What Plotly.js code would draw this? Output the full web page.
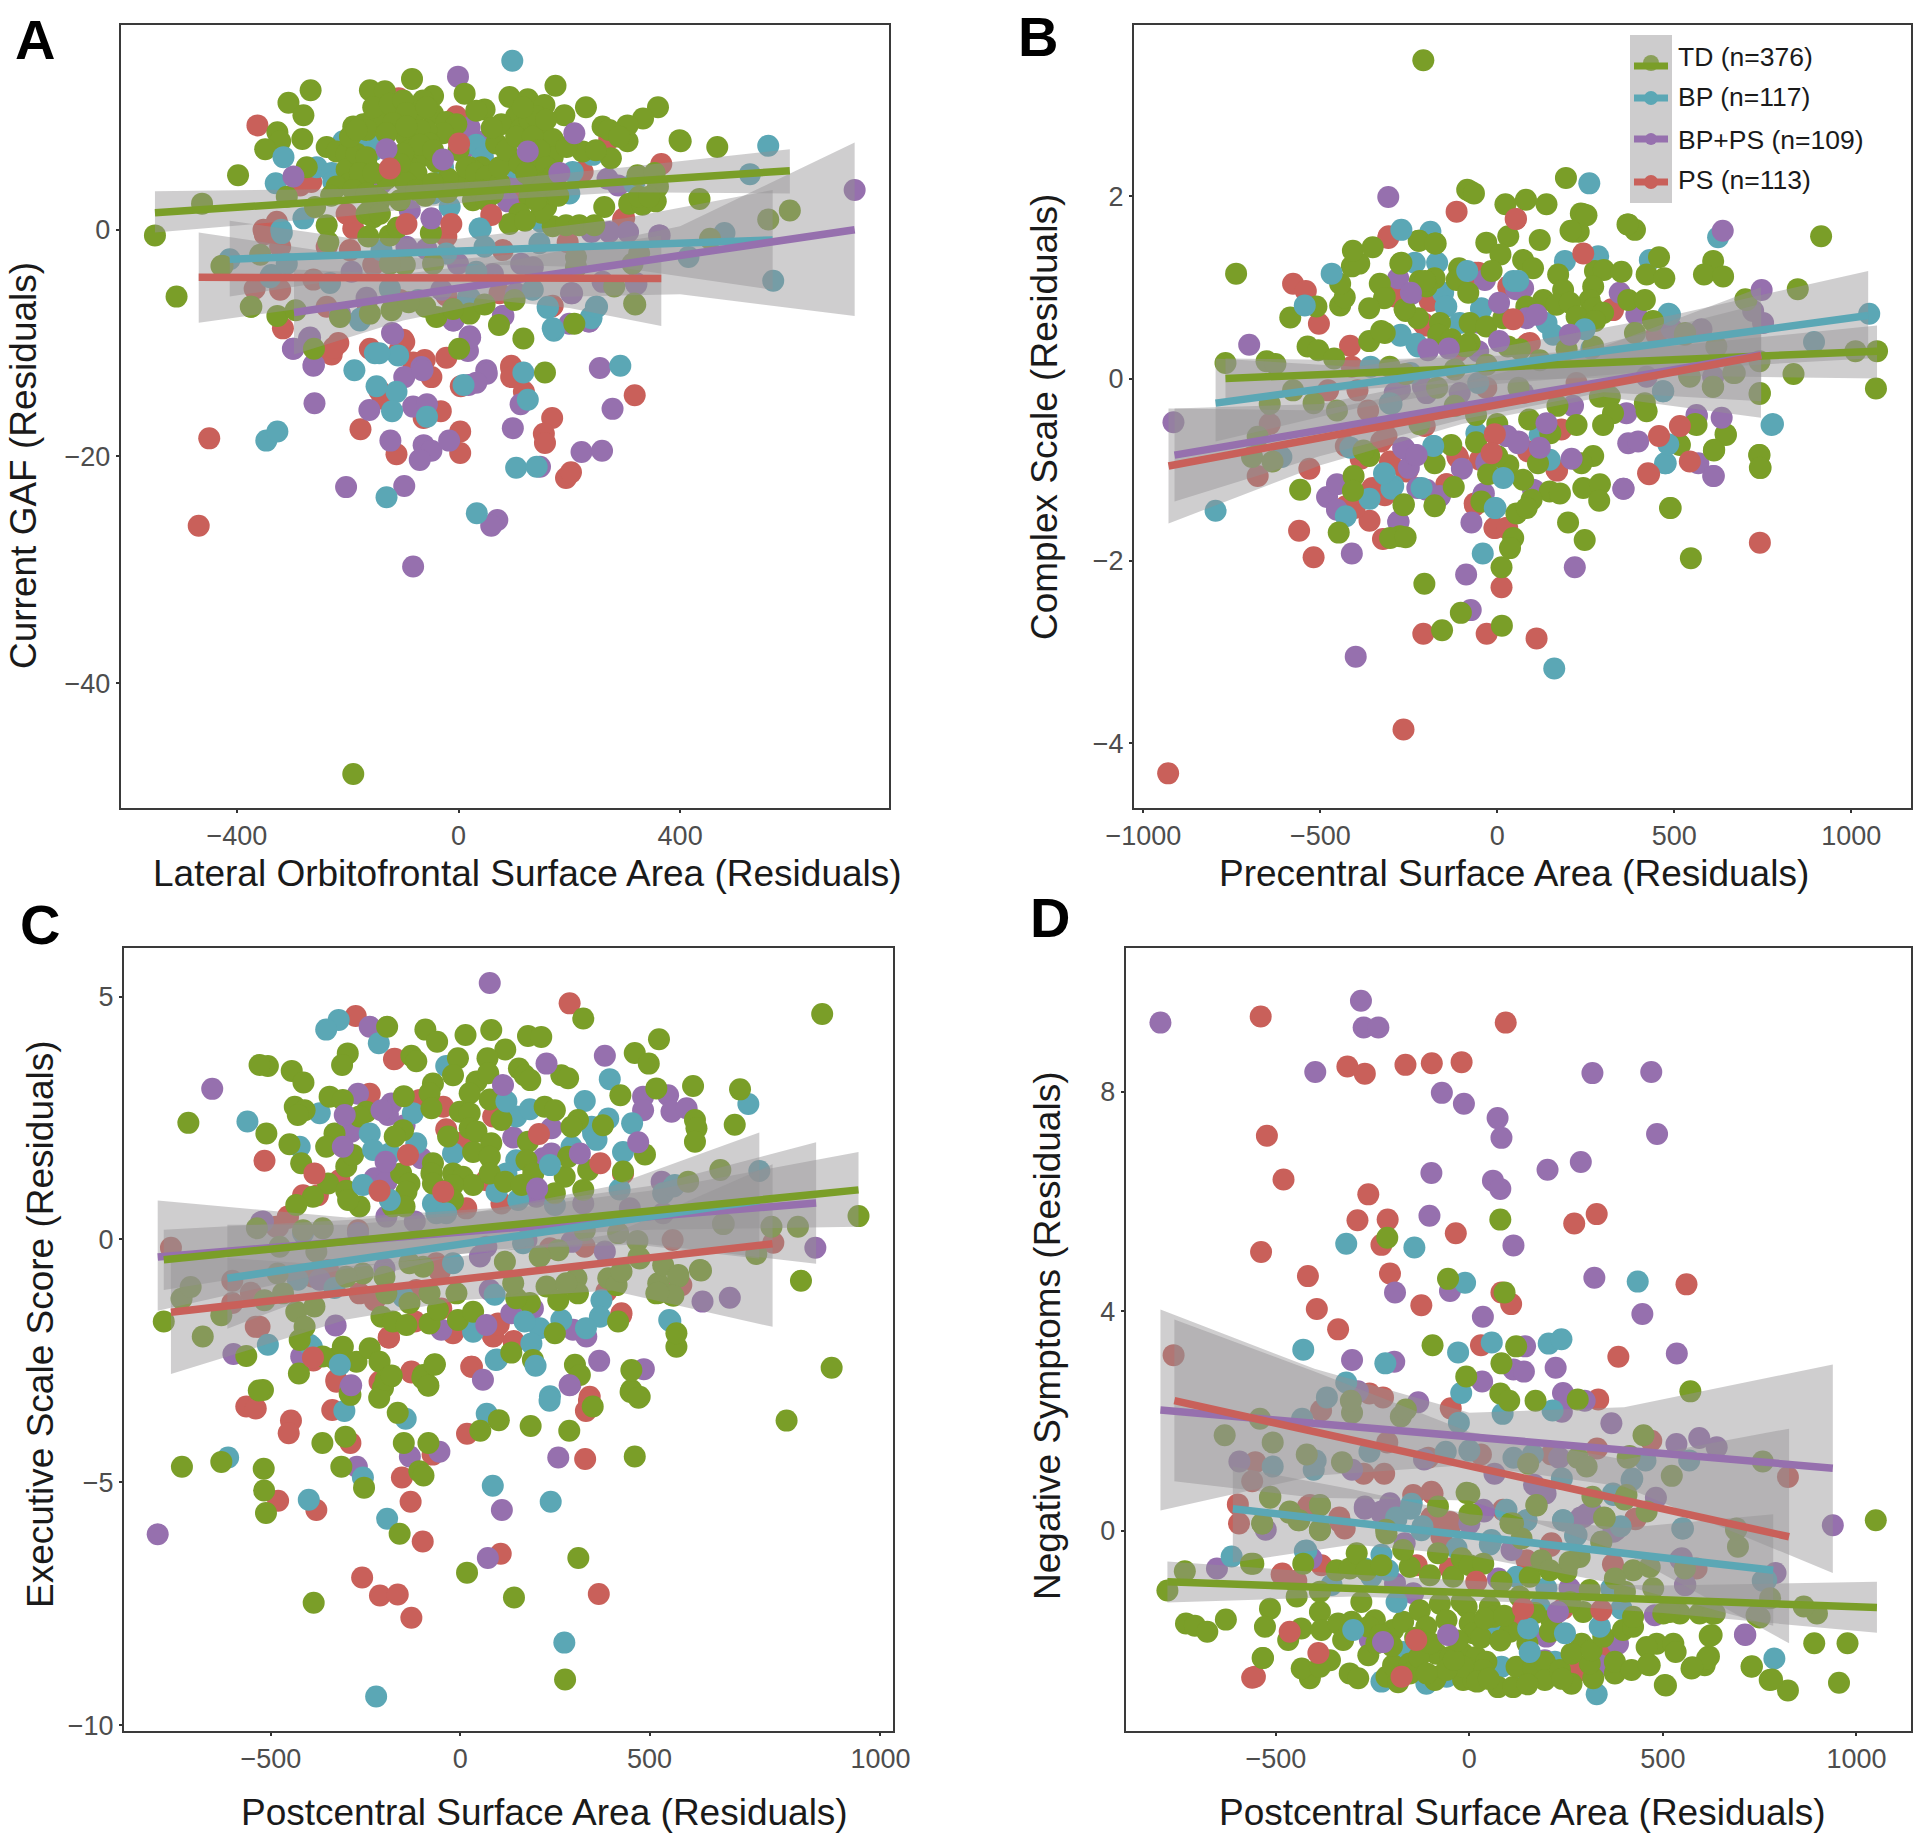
<!DOCTYPE html>
<html>
<head>
<meta charset="utf-8">
<script src="https://cdn.plot.ly/plotly-3.0.1.min.js"></script>
<style>html,body{margin:0;padding:0;background:#fff}#chart{width:1920px;height:1840px}</style>
</head>
<body>
<div id="chart"></div>
<script>
const groupNames = ['TD (n=376)','BP (n=117)','BP+PS (n=109)','PS (n=113)'];
const groupColors = ['#7a9e28','#5ba7b5','#9670ae','#c9605a'];

// ---------- Panel A
const A_TD = [[-398,4.8],[-267,12.3],[-307,11.2],[-280,10.1],[-327,8.6],[-322,7.8],[-349,7.1],[-282,8],[-238,7.3],[-84,13.3],[-160,12.3],[-133,12.2],[11,12],[-46,11.8],[-64,11.4],[175,12.7],[92,11.7],[125,11.5],[155,11],[47,10.6],[32,10.5],[230,10.8],[191,10.1],[360,10.8],[333,9.8],[305,9.2],[260,9.1],[305,7.8],[275,6.3],[263,2],[399,7.9],[224,6.9],[146,8.5],[170,8],[104,10],[77,9.3],[113,8.9],[68,7.6],[140,5.5],[170,6.4],[195,7.3],[92,6.1],[41,5.5],[20,5.5],[56,4.4],[-4,4.1],[-19,4.5],[-112,10.8],[-130,10.2],[-154,9.8],[-190,9.1],[-172,9.3],[-142,9.5],[-106,9.7],[-76,10.5],[-82,9.5],[-46,10.2],[-22,9.5],[-4,9.3],[-28,8.5],[-58,8.8],[-94,8.2],[-88,7],[-70,6.4],[-94,5.8],[-76,5],[-100,4.4],[-220,6.9],[-202,6.7],[-166,5.7],[-184,5.5],[-202,5.3],[-172,4.2],[-196,4.1],[-220,3.8],[-274,5.5],[-259,2],[-310,2.9],[-238,0.4],[-166,1.4],[-142,2.6],[-106,2.6],[-154,1.1],[26,2.6],[62,3.2],[158,3.2],[158,2],[128,2.9],[110,1.4],[92,0.5],[170,0.3],[194,0.4],[218,0.4],[245,0.4],[308,2.3],[332,2.2],[356,2.5],[323,4.8],[354,5],[360,3.8],[317,-6.5],[-374,-6.8],[-327,-7.6],[-294,-7.1],[-40,-7.7],[20,-7.4],[47,-6.6],[-121,-7.1],[-214,-7.7],[281,-5],[101,-6.2],[-163,-0.6],[-124,-0.5],[-235,-1.1],[-358,-2.2],[-428,-3.2],[-97,-3.1],[-124,-3],[-46,-3],[212,-2.4],[212,-3.3],[314,-3],[326,-2.1],[-548,-0.5],[-509,-5.9],[-463,2.3],[-426,-3.2],[-375,-6.8],[-261,-10.5],[-190,-48],[73,-8.4],[117,-9.6],[1,-10.5],[156,-12.6],[209,-8.3],[319,-6.6],[401,7.8],[467,7.3],[435,2.7],[598,1.7],[559,0.9],[454,-0.8],[-60,3],[-20,3.3],[-150,3],[0,7],[30,4],[-130,4.5],[-40,6],[60,9],[-10,-7],[-60,-6.8],[-90,-6.4],[-160,-7.4],[180,3],[150,1.5],[-230,3],[-110,0.2],[-50,-0.3],[120,0.8],[-154,10.8],[-124,11.1],[-100,11.4],[-94,10.3],[-58,10.8],[-118,9.4],[-166,8.8],[-130,8.5],[-70,8.8],[-52,7.6],[-70,7.5],[-100,6.7],[-106,5.8],[-184,6.7],[-166,6.4],[-178,5],[-154,5],[-190,3.5],[-166,3.2],[-160,1.7],[-142,1.4],[-94,4.1],[-76,3.5],[-46,4.1],[14,5.5],[32,5],[50,4.7],[38,3.5],[50,2.6],[74,4.1],[74,5.5],[86,7],[104,8.2],[128,9.7],[140,10],[134,8.2],[158,9.7],[116,10.8],[146,7],[158,5.5],[134,4.4],[170,4.7],[140,2.6],[152,4.1],[110,5.8],[122,5],[-46,7],[-94,9.1],[-196,8.2],[-184,8.8],[272,8.8],[290,8.2],[248,7],[326,2.9],[344,2.9]];
const A_BP = [[97,14.9],[559,7.4],[526,4.9],[568,-4.5],[480,-0.3],[415,-2.4],[-330,4.1],[-413,-2.6],[-338,-4],[-347,-18.6],[-327,-17.8],[-188,-12.4],[-151,-10.9],[-109,-11.1],[-112,-14.3],[-148,-13.8],[-120,-16],[-57,-16.5],[9,-13.7],[117,-12.6],[125,-15],[104,-21],[141,-20.9],[-130,-23.6],[33,-25],[292,-12],[161,-6.9],[172,-8.9],[239,-7.7],[250,-6.8],[40,0.1],[20,-6],[-176,-7.8],[-208,7.8],[-184,7.5],[-154,7],[-139,8.1],[-256,5.5],[-229,5],[-226,4.2],[32,7.5],[44,6.4],[101,5.5],[206,5.1],[242,6.6],[200,3.2],[-16,2],[-46,3.2],[-28,5.5],[-280,1],[161,-6.8],[170,-8.7],[240,-7.8],[248,-6.8],[317,4.1],[149,0.7],[-310,-3],[-340,-4.2],[-232,-4.7],[-124,-5.2],[17,-6],[-73,-6.2],[134,-5.3],[-178,-8],[32,-3.7],[146,-1.2],[47,-1.5],[-139,-1.8],[-22,-2.1]];
const A_BPPS = [[-1,13.5],[20,9],[11,7.2],[50,7.9],[-97,4.8],[-139,4.1],[-67,3.8],[-88,1.7],[89,2.5],[107,4.4],[269,4.5],[288,3.9],[240,-0.2],[272,-0.2],[306,-0.2],[363,-0.5],[-94,-1.5],[-58,-1.7],[-1,-3],[113,-3],[134,-3.3],[203,-5.6],[320,-4.7],[260,-4.6],[104,-5.6],[-31,-5.3],[-166,-6],[-193,-3.7],[62,-3.9],[-214,-7.4],[-9,-8],[80,-7.6],[200,-8.3],[236,-8.1],[-268,-9.5],[-298,-10.5],[-262,-12],[-118,-9.2],[20,-9.4],[17,-10.7],[50,-12.4],[-67,-12.1],[-261,-11.9],[-260,-15.3],[-161,-15.9],[-98,-13],[-65,-12.4],[-82,-15.6],[-57,-15.4],[-123,-18.6],[-63,-19],[-49,-19.5],[-70,-20.3],[-17,-18.6],[-203,-22.7],[-98,-22.6],[70,-25.6],[59,-26.1],[-82,-29.7],[98,-17.5],[112,-15.4],[51,-12.7],[18,-13.7],[32,-13.5],[255,-12.2],[278,-15.8],[222,-19.6],[259,-19.5],[147,-20.9],[715,3.5],[362,-0.5],[321,-4.8],[239,0],[81,-7.6],[-10,-8],[235,-8.1],[205,-5.6],[15,-10.6],[21,-9.5],[-120,-9.1],[-299,-10.5],[-270,-9.6]];
const A_PS = [[-363,9.2],[-4,10],[-108,11.6],[366,5.8],[170,7.9],[224,5.1],[272,8],[-286,3.9],[-266,4.2],[134,2.8],[110,3.2],[-190,0.1],[-202,1.4],[-328,0.7],[-352,0],[-322,-1.5],[-238,-1.5],[-196,-1.8],[-154,-3.1],[-22,-0.6],[80,-1.8],[197,-1.1],[299,1],[-368,-5.2],[-322,-5.3],[-262,-4.4],[-166,-6.4],[-238,-6.8],[-106,-6.2],[-22,-5.8],[74,-5.6],[170,-6.7],[-317,-8.7],[-217,-10],[-229,-11],[-160,-10.5],[-100,-9.7],[-106,-10.6],[-82,-11.7],[-61,-11.5],[-22,-11.3],[95,-12],[-450,-18.4],[-469,-26.1],[-225,-10.4],[-98,-9.9],[-49,-13],[-143,-14.2],[-137,-14.9],[-32,-16],[-63,-16.6],[-177,-17.6],[-112,-19.8],[3,-17.8],[3,-19.7],[4,-13.8],[95,-12.2],[95,-13],[118,-14.3],[169,-16.6],[154,-18],[156,-18.8],[194,-21.9],[203,-21.4],[318,-14.6],[297,0.9],[-350,-0.4],[167,-6.8]];
const A_top = [[209,8.5,2],[125,6.9,2],[-28,6.2,2],[-130,7.1,2],[-49,1,2],[-298,4.7,2],[182,5,2],[1,7.6,3],[-124,5.4,3],[59,1.3,3],[-94,0.5,3],[-13,0.5,3],[38,0.1,1],[-316,6.4,1],[-320,0,1],[-319,-0.3,1],[-143,-10.9,1]];
const A_fit = [[[-548,1.5],[598,5.2]],[[-413,-2.6],[567,-0.9]],[[-297,-7.3],[715,0]],[[-469,-4.2],[366,-4.3]]];
const A_band = [[[-548,-0.25,3.4],[-200,1.2,3.6],[50,2.6,4.3],[300,3.3,5.5],[598,3.2,7.1]],[[-413,-5.9,0.8],[-200,-4.3,-0.7],[0,-3,-0.8],[300,-3.4,1],[567,-5.3,3.5]],[[-297,-11,-3.5],[-100,-8,-3.9],[100,-6,-2.7],[400,-5.7,0.3],[715,-7.6,7.7]],[[-469,-8.2,-0.25],[-200,-6.4,-2.2],[0,-5.9,-2.6],[200,-6.9,-1.7],[366,-8.5,-0.5]]];

// ---------- Panel B
const B_TD = [[-76,2.05],[-85,2.07],[-66,2.03],[23,1.91],[81,1.96],[139,1.91],[243,1.8],[370,1.69],[389,1.63],[214,1.61],[230,1.61],[120,1.52],[31,1.56],[-31,1.49],[-221,1.51],[-174,1.48],[9,1.36],[73,1.3],[101,1.21],[172,1.14],[-271,1.27],[-108,1.21],[-16,1.18],[276,1.18],[301,1.19],[351,1.17],[422,1.14],[472,1.1],[457,1.33],[610,1.29],[584,1.14],[638,1.12],[-115,1.08],[-177,1.1],[-219,1.07],[-82,0.94],[186,0.97],[271,1.01],[261,0.86],[370,0.86],[417,0.86],[704,0.86],[-318,0.9],[-318,0.5],[-259,0.74],[-224,0.66],[-200,1.01],[130,0.86],[167,0.81],[205,0.83],[82,0.79],[271,0.77],[299,0.72],[440,0.63],[-162,0.61],[-78,0.61],[-31,0.57],[17,0.66],[224,0.68],[276,0.63],[389,0.5],[-167,0.48],[-130,0.43],[-78,0.39],[64,0.32],[196,0.32],[271,0.35],[-304,0.13],[530,0.48],[671,0.06],[544,0.02],[610,-0.09],[742,-0.16],[619,0.35],[290,-0.2],[318,-0.2],[417,-0.27],[422,-0.36],[327,-0.38],[299,-0.51],[224,-0.51],[563,-0.51],[646,-0.62],[516,-0.73],[613,-0.78],[740,-0.84],[744,-0.98],[271,-0.85],[238,-0.93],[115,-0.93],[-177,-0.93],[-130,-0.73],[-26,-1.05],[31,-0.95],[73,-1.11],[148,-1.24],[177,-1.26],[243,-1.2],[290,-1.16],[288,-1.34],[-123,-1.19],[-45,-1.35],[-177,-1.4],[-264,-1.38],[97,-1.33],[54,-1.48],[200,-1.58],[490,-1.42],[247,-1.77],[83,-1.42],[-275,-1.73],[45,-1.75],[-738,1.15],[-768,0.17],[-652,0.19],[-627,0.16],[-585,0.67],[-536,0.35],[-506,0.31],[-461,0.22],[-511,0.79],[-444,0.8],[-431,0.89],[-444,1.04],[-411,1.23],[-390,1.26],[-408,1.4],[-352,1.44],[-332,1.04],[-320,0.88],[-362,0.77],[-362,0.41],[-328,0.52],[-262,0.76],[-274,1.26],[-222,1.51],[-176,1.48],[-204,1.07],[-577,-0.13],[-643,-0.28],[-519,-0.27],[-453,-0.35],[-677,-0.64],[-693,-0.86],[-635,-0.91],[-362,-0.85],[-378,-0.79],[-557,-1.22],[-406,-1.07],[-408,-1.23],[-448,-1.69],[-303,-1.75],[-259,-1.74],[-265,-1.39],[-177,-1.39],[-206,-2.25],[-156,-2.76],[-103,-2.57],[13,-2.71],[12,-2.07],[36,-1.86],[-209,3.49],[194,2.2],[236,1.81],[252,1.79],[207,1.62],[368,1.69],[915,1.56],[849,0.98],[701,0.87],[1073,0.3],[1070,-0.11],[1012,0.3],[837,0.05],[741,-0.17],[741,-0.84],[742,-0.98],[547,-1.97],[488,-1.42],[514,-0.72],[559,-0.5],[645,-0.61],[612,-0.79],[542,0.03],[609,-0.09],[667,0.06],[741,0.19],[531,0.5],[-120,0.1],[-60,-0.4],[0,-0.5],[60,-0.1],[120,0.2],[170,-0.3],[-220,-0.5],[-170,-0.1],[-90,0.35],[-30,0.15],[30,0.35],[-260,0.05],[-120,-0.3],[90,-0.45],[150,-0.6],[-60,-0.7],[0,-0.85]];
const B_BP = [[-189,1.61],[-233,1.27],[-170,1.27],[191,1.29],[285,1.34],[431,1.3],[488,0.7],[-153,0.94],[-144,0.79],[-45,0.77],[-106,0.61],[139,0.61],[158,0.48],[-273,0.48],[-224,0.35],[469,-0.14],[266,0.33],[-54,-0.05],[-304,-0.27],[120,-0.62],[-59,-0.6],[148,-0.89],[-294,-1.18],[-214,-1.2],[-318,-1.05],[-358,0.13],[161,-3.18],[-41,-1.92],[-5,-1.42],[15,-1.07],[-428,-1.51],[-361,-1.32],[-299,-1.21],[-320,-1.04],[-610,-0.86],[-415,-0.76],[-179,-0.74],[260,2.14],[1051,0.71],[895,0.4],[779,-0.5],[476,-0.93],[468,-0.14],[484,0.71],[282,1.31],[-299,-0.28],[-245,0.06],[-229,0.38],[-274,0.47],[-146,0.79],[-46,0.76]];
const B_BPPS = [[-280,1.1],[-35,1.08],[73,0.99],[-49,0.61],[-54,0.3],[492,0.55],[577,0.54],[723,0.74],[751,0.61],[365,-0.38],[563,-0.4],[370,-0.71],[398,-0.69],[568,-0.93],[610,-1.07],[356,-1.21],[-250,-0.98],[-31,-0.93],[101,-1.22],[-200,-1.22],[-40,-1.28],[-162,-1.29],[-73,-1.58],[-280,-1.57],[610,0.02],[-200,-0.16],[-275,-0.12],[422,0.02],[214,-0.3],[73,-0.16],[-106,-0.16],[-210,-0.09],[-290,-0.16],[-915,-0.48],[-701,0.37],[346,0.94],[393,0.7],[564,-0.41],[612,-1.07],[357,-1.21],[106,-1.23],[219,-2.07],[-88,-2.15],[-75,-2.54],[-400,-3.05],[-411,-1.92],[-279,-1.57],[-481,-1.3],[-453,-1.16],[-453,-1.44],[-226,-1.2],[-163,-1.29],[-262,-0.77],[-232,-0.84],[-100,-0.99],[-38,-1.26],[-30,-0.91],[28,-0.63],[61,-0.69],[-242,0.93],[-196,0.31],[53,0.98],[202,0.47]];
const B_PS = [[-115,1.83],[-308,1.54],[-54,1.16],[31,1.01],[-290,0.9],[-191,0.85],[-210,0.61],[327,0.75],[92,0.39],[-111,0.3],[450,0.48],[224,-0.05],[-31,-0.1],[-205,-0.52],[-313,-0.63],[181,-0.56],[-304,-0.95],[-257,-1.02],[-111,-0.87],[-49,-0.89],[167,-1],[87,-0.8],[-318,-1.28],[-144,-1.16],[-64,-1.37],[-7,-1.64],[26,-1.64],[742,-1.8],[-930,-4.33],[-265,-3.85],[-209,-2.8],[-30,-2.8],[111,-2.85],[12,-2.29],[-323,-1.76],[-560,-1.67],[-519,-1.96],[-361,-1.56],[-403,-1.42],[-428,-1.4],[-353,-1.2],[-328,-1.26],[-531,-0.99],[-677,-1.07],[-643,-0.5],[-365,-0.35],[-328,-0.69],[-303,-0.91],[-254,-1.01],[-386,-0.88],[-428,-0.74],[-143,-1.16],[-113,-0.85],[-63,-1.39],[-8,-1.64],[28,-1.64],[426,-1.04],[169,-1.01],[53,1.75],[-307,1.56],[-577,1.04],[-541,0.96],[-504,0.6],[-416,0.36],[-411,0.13],[-292,0.91],[-191,0.88],[-204,0.58],[-63,1.16],[323,0.76],[86,0.38],[-395,-0.13],[-478,-0.13]];
const B_top = [[-85,1.18,1],[45,1.07,1],[59,1.07,1],[-271,1.63,1],[624,1.55,1],[247,0.54,1],[-181,-0.74,1],[775,-0.51,1],[-7,-1.42,1],[17,-1.09,1],[474,-0.93,1],[483,-0.72,1],[-796,-1.45,1],[-544,0.8,1],[-468,1.15,1],[5,0.83,2],[82,0.66,2],[111,0.7,2],[-244,0.94,2],[-195,0.32,2],[-137,0.33,2],[-308,1.99,2],[139,-0.49,2],[120,-0.76,2],[5,0.41,2],[205,0.48,2],[210,-0.88,2],[26,-0.63,2],[59,-0.71,2],[-266,-0.76,2],[-228,-0.84,2],[634,-0.43,2],[747,0.97,2],[637,1.62,2],[243,1.37,3],[45,0.65,3],[-7,-0.61,3],[-16,-0.82,3],[52,1.75,3],[429,-1.05,3],[516,-0.52,3],[544,-0.91,3],[457,-0.63,3]];
const B_fit = [[[-768,0],[1073,0.3]],[[-796,-0.27],[1048,0.69]],[[-912,-0.84],[746,0.26]],[[-929,-0.96],[745,0.25]]];
const B_band = [[[-768,-0.25,0.22],[-400,-0.12,0.2],[0,-0.02,0.25],[500,0.03,0.36],[1073,0,0.58]],[[-796,-0.69,0.22],[-400,-0.33,0.13],[0,-0.06,0.34],[500,0.1,0.7],[1048,0.22,1.18]],[[-912,-1.35,-0.33],[-500,-0.85,-0.28],[-100,-0.45,0.03],[300,-0.15,0.38],[746,-0.25,0.82]],[[-929,-1.59,-0.33],[-500,-0.95,-0.35],[-100,-0.5,-0.05],[300,-0.2,0.35],[745,-0.43,1]]];

// ---------- Panel C
const C_TD = [[325,4.55],[-193,4.38],[-92,4.32],[-61,4.07],[14,4.21],[82,4.31],[119,3.91],[179,4.19],[214,4.17],[-297,3.83],[-312,3.59],[-129,3.78],[-116,3.67],[-6,3.73],[72,3.73],[-19,3.38],[-508,3.57],[-530,3.59],[-445,3.47],[-414,3.23],[525,4.12],[461,3.84],[498,3.62],[155,3.52],[170,3.38],[185,3.28],[267,3.38],[285,3.32],[43,3.25],[25,3.01],[74,3.42],[-72,3.21],[-81,3.01],[423,2.97],[518,3.11],[615,3.16],[739,3.09],[725,2.36],[78,2.88],[-345,2.94],[-310,2.87],[-437,2.73],[-411,2.66],[-429,2.56],[-149,2.95],[-76,2.7],[-1,2.63],[25,2.6],[223,2.73],[250,2.66],[311,2.46],[294,2.32],[377,2.35],[620,2.46],[624,2.29],[620,2.01],[109,2.46],[25,2.29],[43,2.22],[-512,2.18],[-451,1.96],[-151,2.25],[-173,2.12],[-32,2.12],[82,1.98],[179,2.01],[-332,2.18],[-354,1.91],[-248,2.63],[-266,2.53],[34,1.8],[78,1.7],[488,1.75],[-420,1.57],[-301,1.5],[-283,1.74],[-72,1.57],[-76,1.36],[-156,1.36],[-134,1.15],[-142,0.98],[-19,1.36],[7,1.29],[34,1.12],[-72,1.15],[-19,1.12],[78,1.36],[118,1.19],[162,1.12],[175,1.63],[193,1.36],[276,1.29],[285,1.7],[338,1.43],[430,1.4],[325,1.02],[250,0.95],[-349,1.15],[-301,1],[-389,0.88],[-266,0.68],[-433,0.71],[-296,0.81],[-178,0.68],[-147,0.68],[-19,0.81],[687,1.43],[602,1.19],[694,0.32],[417,0.13],[468,-0.03],[329,0.19],[259,-0.22],[210,-0.35],[118,-0.46],[-98,-0.56],[-134,-0.49],[-200,-0.77],[-257,-0.7],[-301,-0.77],[-380,-0.25],[-363,0.23],[-415,0.19],[-477,-0.15],[-482,-0.7],[-468,-1.11],[-517,-1.25],[-433,-1.49],[-385,-1.38],[-411,-1.8],[-424,-2.07],[-208,-1.59],[-178,-1.69],[-142,-1.76],[-81,-1.73],[-59,-1.45],[-6,-1.66],[34,-1.49],[-10,-1.11],[-81,-1.11],[-134,-1.31],[-195,-1.11],[184,-1.31],[148,-1.21],[140,-0.9],[228,-0.97],[259,-1.25],[307,-0.8],[311,-1.11],[280,-0.9],[391,-0.8],[413,-0.94],[426,-0.66],[523,-0.9],[558,-1.14],[518,-1.11],[536,-0.53],[576,-0.73],[633,-0.63],[474,-0.39],[417,-1.69],[250,-1.93],[135,-2.33],[192,-2.48],[571,-2.21],[571,-1.93],[-332,-2.45],[-310,-2.21],[-363,-2.41],[-274,-2.52],[-239,-2.24],[-213,-2.52],[-426,-2.76],[-182,-2.82],[-204,-3.06],[-67,-2.57],[-98,-2.79],[-85,-3],[452,-2.69],[303,-2.58],[316,-2.79],[452,-3.1],[474,-3.24],[-521,-3.1],[-292,-3.17],[956,4.64],[1052,0.48],[981,-2.64],[862,-3.73],[900,-0.85],[892,0.26],[822,0.26],[782,-0.3],[696,0.32],[636,-0.64],[576,-0.77],[563,-1.16],[523,-1.1],[471,-0.36],[288,-3.94],[186,-3.84],[312,-6.56],[142,-7.37],[277,-9.06],[18,-6.86],[-387,-7.48],[-513,-5.63],[-518,-5.17],[-519,-4.72],[-735,-4.68],[-631,-4.58],[-532,-3.11],[-565,-2.4],[-783,-1.69],[-680,-2],[-631,-1.56],[-736,-1.22],[-712,-0.98],[-718,2.4],[-537,0.23],[-160,-6.06],[-254,-5.11],[-314,-4.68],[-303,-4.06],[-364,-4.19],[-149,-4.19],[-84,-4.19],[-108,-4.77],[-97,-4.86],[102,-3.72],[53,-3.94],[-165,-3.57],[-214,-3.26],[-290,-3.2],[-197,-2.89],[-181,-2.8],[-100,-2.85],[-84,-3.01],[-68,-2.58],[461,-4.47],[350,-3.44],[450,-3.14],[471,-3.26]];
const C_BP = [[-321,4.52],[-215,4.04],[-37,3.57],[395,3.3],[329,2.85],[454,2.39],[391,2.49],[-125,2.6],[-371,2.6],[148,2.53],[184,2.68],[351,2.18],[347,2.32],[360,2.05],[294,1.91],[430,1.8],[-116,1.98],[-424,1.91],[-186,1.77],[-19,1.77],[148,1.63],[122,1.36],[96,0.98],[153,0.81],[250,0.71],[421,1.03],[567,1.12],[536,0.95],[373,-1.25],[369,-1.59],[552,-1.66],[267,-1.66],[210,-1.83],[34,-1.9],[188,-2.14],[97,-2.47],[237,-3.23],[91,-1.14],[-398,-2.17],[-508,-2.17],[-429,-0.83],[-332,-1],[-151,-1.18],[-19,-0.49],[166,-0.08],[-415,0.13],[-562,2.43],[-613,-4.49],[-392,-2.21],[-306,-3.53],[-144,-3.69],[-257,-4.9],[-400,-5.36],[-193,-5.75],[86,-5.07],[239,-5.4],[70,-3.59],[236,-3.32],[94,-2.48],[275,-8.3],[-222,-9.41],[555,-1.68],[761,2.79],[790,1.41],[563,1.09],[-72,0.74]];
const C_BPPS = [[382,3.78],[-239,4.38],[-270,3],[-182,2.8],[-191,2.56],[-288,2.22],[-147,2.35],[-103,1.67],[-226,1.26],[-195,1.19],[140,2.1],[241,2.29],[241,1.77],[219,1.67],[483,2.94],[483,2.66],[549,2.97],[558,2.63],[598,2.7],[201,0.88],[532,1.19],[325,0.74],[-195,0.47],[-120,0.37],[-521,0.37],[-270,0.13],[294,-0.05],[382,-0.25],[52,-0.35],[69,-0.15],[175,-0.01],[-200,-0.6],[448,0.64],[536,0.54],[-371,-0.83],[78,-1.04],[640,-1.28],[712,-1.2],[-329,-1.77],[-50,-1.86],[135,-1.52],[192,-1.42],[298,-1.86],[333,-2],[-420,-2.41],[485,-2.67],[60,-2.89],[-655,3.1],[78,5.28],[-799,-6.07],[-526,0.36],[-599,-2.36],[-416,-2.46],[-290,-3.04],[-273,-4.68],[-133,-4.47],[-55,-4.37],[110,-5.57],[73,-6.56],[259,-4.49],[291,-2.99],[938,-0.17]];
const C_PS = [[-276,4.6],[289,4.86],[-175,3.71],[-239,3],[-107,2.87],[-45,2.73],[87,2.53],[-37,2.27],[7,2],[-517,1.62],[-415,0.91],[-376,0.91],[-319,1.22],[69,1.22],[109,0.74],[430,1.36],[-455,0.47],[-486,0.26],[-270,0.19],[561,-0.01],[329,-0.15],[237,-0.18],[16,0.64],[-54,-0.66],[-63,-0.49],[-389,-0.77],[-349,-0.63],[-266,-1.11],[-226,-1.25],[-116,-1.04],[584,-0.94],[386,-1.07],[426,-1.52],[-120,-1.69],[-50,-1.42],[-19,-1.9],[100,-1.73],[87,-2],[-188,-2.02],[141,-2.09],[-129,-2.72],[-327,-2.93],[-213,-2.93],[31,-2.62],[-530,-1.8],[342,-3.24],[-173,3.72],[-764,-0.17],[-456,0.44],[-481,0.26],[-602,-0.85],[-553,-1.1],[-602,-1.31],[-540,-1.8],[-388,-2.49],[-327,-2.89],[-189,-2.02],[-129,-2.74],[-19,-1.93],[87,-1.99],[102,-1.75],[142,-2.12],[29,-2.62],[-565,-3.44],[-540,-3.48],[-447,-3.73],[-453,-3.99],[-338,-3.51],[-290,-4.19],[-73,-4.43],[18,-4],[330,-4.52],[340,-3.32],[332,-3.53],[-481,-5.38],[-380,-5.57],[-154,-4.9],[-131,-5.4],[-99,-6.22],[107,-6.47],[-259,-6.96],[-212,-7.33],[-165,-7.31],[-129,-7.79],[366,-7.3],[827,-0.07],[579,-0.91],[425,-1.56]];
const C_top = [[-186,0.81,1],[237,1.53,1],[122,2.84,1],[-239,2.18,1],[-318,-2.58,1],[-257,1.12,1],[-230,1.84,1],[332,-1.83,1],[170,-1.69,1],[199,-2.6,1],[-63,0.54,1],[-37,0.54,1],[-354,4.32,1],[228,3.62,2],[-305,2.56,2],[-310,1.91,2],[-197,1.6,2],[113,3.18,2],[-208,2.66,2],[316,1.77,2],[470,2,2],[367,-2.5,2],[289,-3,2],[-288,-3,2],[203,1.05,2],[69,-1.76,2],[208,2.17,3],[370,1.57,3],[-213,1,3],[-385,1.36,3],[-389,-2.43,3],[-138,1.74,3],[-45,0.98,3]];
const C_fit = [[[-783,-0.42],[1052,1.02]],[[-615,-0.8],[790,0.8]],[[-799,-0.36],[940,0.75]],[[-764,-1.5],[825,-0.09]]];
const C_band = [[[-783,-1.04,0.2],[-300,-0.45,0.4],[100,0.05,0.6],[500,0.2,1],[1052,0.26,1.8]],[[-615,-1.84,0.3],[-300,-0.9,0.3],[0,-0.3,0.5],[400,-0.05,1.1],[790,-0.4,2.2]],[[-799,-1.47,0.8],[-300,-0.6,0.45],[100,-0.2,0.65],[500,-0.1,1.1],[940,-0.5,2]],[[-764,-2.77,-0.3],[-300,-1.65,-0.55],[0,-1.25,-0.35],[400,-1.05,0.1],[825,-1.8,1.55]]];
const C_tickVals = [-500,0,500,1110];
const C_tickText = ['\u2212500','0','500','1000'];

// ---------- Panel D
const D_TD = [[-412,-2.69],[-433,-2.51],[-360,-2.36],[-386,-2.48],[-309,-2.6],[-287,-2.69],[-214,-2.66],[-184,-2.76],[-197,-2.45],[-154,-2.42],[-154,-2.6],[-85,-2.66],[-89,-2.72],[-85,-2.24],[-50,-2.3],[-16,-2.24],[18,-2.3],[44,-2.39],[-16,-2.72],[10,-2.72],[74,-2.85],[113,-2.85],[36,-2.54],[-16,-2.48],[-59,-2.54],[122,-2.48],[165,-2.51],[195,-2.39],[195,-2.72],[234,-2.54],[264,-2.79],[320,-2.69],[311,-2.42],[290,-2.06],[264,-2.24],[316,-2.18],[376,-2.6],[376,-2.39],[419,-2.54],[466,-2.45],[484,-2.06],[458,-2.12],[527,-2.06],[533,-2.21],[574,-2.51],[608,-2.45],[619,-2.29],[505,-2.81],[729,-2.48],[776,-2.72],[-534,-2.32],[-261,-2.27],[-515,-1.42],[-528,-1.75],[-468,-1.99],[-434,-1.78],[-386,-1.48],[-382,-1.81],[-339,-1.69],[-326,-1.99],[-304,-1.66],[-244,-1.63],[-279,-1.3],[-197,-1.81],[-171,-1.66],[-128,-1.45],[-111,-1.75],[-76,-1.33],[-59,-1.63],[-7,-1.39],[1,-1.69],[10,-1.87],[53,-1.39],[62,-1.57],[105,-1.84],[212,-1.63],[208,-1.84],[346,-1.93],[397,-1.81],[423,-1.75],[423,-1.57],[501,-1.51],[544,-1.51],[595,-1.51],[634,-1.51],[626,-1.9],[742,-1.54],[294,-1.48],[-343,-0.72],[-309,-0.69],[-291,-0.41],[-266,-0.72],[-227,-0.63],[-154,-0.66],[-102,-0.81],[-42,-0.84],[-20,-0.5],[1,-0.63],[36,-0.6],[83,-0.93],[156,-0.84],[186,-0.54],[208,-0.72],[251,-0.75],[311,-1.08],[402,-1.11],[-429,-0.6],[-558,-0.6],[-81,-0.41],[423,-0.72],[475,-1.05],[-514,0.62],[-464,0.35],[-535,0.13],[-442,0.19],[-386,0.47],[-386,0.01],[-446,-1.2],[-386,-1.11],[-7,0.69],[-81,0.44],[6,0.29],[-214,-0.05],[-171,-0.35],[113,0.13],[173,0.47],[135,-0.14],[285,-0.48],[259,-0.57],[341,-0.2],[350,0.23],[406,0.65],[458,0.35],[466,-0.66],[376,-0.87],[690,0.04],[694,-0.29],[557,-0.69],[518,-1.48],[-780,-1.09],[-735,-0.74],[-732,-1.69],[-709,-1.73],[-677,-1.84],[-629,-1.62],[-564,-0.6],[-533,-2.32],[-632,1.74],[-541,2.04],[-508,1.61],[-515,0.6],[-535,0.13],[-465,0.33],[-439,0.19],[-386,0.02],[-386,0.46],[80,5.67],[-212,5.34],[-55,4.59],[91,4.34],[-95,3.38],[121,3.36],[83,3.05],[-8,2.81],[80,2.5],[103,2.37],[171,2.37],[280,2.39],[571,2.54],[450,1.74],[414,1.36],[523,1],[758,1.26],[689,0.02],[1050,0.19],[977,-2.05],[891,-2.05],[955,-2.77],[823,-2.91],[782,-2.71],[730,-2.47],[898,-1.51],[864,-1.38],[750,-1.58],[777,-1.23],[629,-1.51],[621,-1.92],[614,-2.33],[576,-2.49],[508,-2.82],[462,-2.44],[-303,2.15],[-306,2.37],[-177,2.08],[-164,2.21],[-329,1.25],[-420,1.39],[0,0.68],[174,0.46],[152,1.22],[280,1.33],[303,1.17],[318,0.62],[348,0.24],[401,0.57],[409,1.33],[106,0.13],[0,0.3],[-215,0.02],[-130,-2.3],[-40,-2.35],[-200,-2.1],[-100,-2.05],[-30,-2],[30,-1.95],[80,-2],[150,-2.05],[-240,-2.05],[-140,-1.95],[40,-1.6],[90,-1.55],[-20,-1.3],[20,-2.75],[50,-2.7],[-110,-2.6],[150,-2.8],[240,-2.7],[-260,-1.75],[-230,-1.9],[130,-1.2],[170,-1.5],[260,-1.3]];
const D_BP = [[-318,5.23],[-142,5.16],[-11,4.52],[435,4.54],[-429,3.3],[58,3.43],[205,3.41],[238,3.49],[-29,3.25],[-217,3.05],[-318,2.7],[-21,2.51],[86,2.13],[215,2.19],[-368,2.43],[-432,2.04],[-27,1.97],[-258,1.44],[-397,1.28],[-508,1.17],[-402,1.11],[-614,-0.47],[-61,1.44],[0,1.46],[114,1.33],[164,1.39],[239,0.95],[371,0.68],[421,0.95],[455,1.28],[568,1.28],[550,0.04],[242,0.19],[147,0.19],[94,0.35],[391,0.08],[-421,-0.36],[-152,0.4],[-189,0.24],[-121,0.08],[53,-0.25],[273,-0.09],[341,-0.2],[758,-0.91],[368,-1.07],[788,-2.33],[329,-2.98],[-425,-0.37],[-356,-0.99],[-270,-0.69],[-227,-0.44],[-253,-0.84],[-210,-0.72],[-188,0.22],[-124,0.01],[-227,-2.75],[-59,-2.66],[-111,-2.79],[-171,-2.21],[83,-2.48],[66,-1.87],[221,-2.39],[122,-0.84],[199,-1.05],[148,-2.66],[367,-1.05],[393,-1.42],[-33,-0.32],[96,0.38],[148,0.19],[57,-0.17],[242,0.19],[552,0.04],[277,-0.08],[372,0.65],[419,0.92],[767,-0.9],[182,-1.39]];
const D_BPPS = [[-798,9.26],[-280,9.66],[-273,9.17],[-235,9.17],[-398,8.36],[318,8.34],[470,8.36],[-71,7.98],[-14,7.78],[73,7.52],[83,7.16],[485,7.23],[288,6.72],[202,6.58],[-98,6.52],[61,6.38],[80,6.23],[-103,5.74],[114,5.2],[323,4.61],[-192,4.34],[-50,4.37],[447,3.95],[35,3.9],[536,3.23],[-303,3.11],[-194,3.08],[144,3.36],[114,2.94],[141,2.9],[223,2.97],[33,2.72],[242,2.51],[-288,2.54],[-132,2.34],[239,2.17],[367,1.96],[298,2.37],[594,1.69],[535,1.58],[639,1.52],[-594,1.26],[-303,1.11],[-117,1.3],[65,1.04],[167,0.84],[197,0.68],[232,1.33],[482,0.6],[303,0.3],[379,0.02],[-526,0.02],[-652,-0.69],[38,0.35],[288,0.24],[-270,0.4],[-227,0.35],[0,0.13],[939,0.1],[791,-0.77],[545,-0.52],[558,-0.99],[712,-1.89],[-408,-0.5],[-270,0.44],[-205,0.5],[-227,0.32],[-167,-0.23],[36,0.38],[109,-0.35],[294,0.25],[315,0.35],[372,-0.02],[191,0.68],[549,-0.5],[557,-0.99],[259,-1.05],[479,-1.54],[-192,-0.96],[-145,-1.14],[-257,-1.99],[74,-0.87],[199,-1.93],[384,-2.06],[195,-2.36],[337,-2.45],[-98,-2.09]];
const D_PS = [[-539,9.37],[94,9.26],[-315,8.46],[-270,8.33],[-165,8.49],[-97,8.52],[-20,8.54],[-523,7.2],[-480,6.4],[-261,6.13],[-289,5.66],[-211,5.67],[-35,5.42],[329,5.77],[271,5.6],[-538,5.08],[-227,5.21],[-417,4.64],[-205,4.69],[561,4.49],[83,4.34],[108,4.13],[-124,4.11],[-394,4.04],[-339,3.67],[30,3.38],[385,3.17],[-764,3.2],[333,2.39],[-258,2.5],[-223,2.43],[-48,2.23],[-383,2.19],[-212,1.61],[470,1.64],[330,1.5],[212,1.39],[-553,1.25],[-561,0.9],[-273,1.04],[-220,1.04],[-95,0.68],[30,1.39],[-106,1.33],[823,0.98],[-598,0.48],[-595,0.13],[-417,0.44],[-336,0.24],[-98,0.24],[-45,0.13],[91,0.37],[429,0.21],[209,-0.28],[371,-0.61],[-485,-0.8],[-447,-0.91],[-561,-2.68],[-554,-2.66],[-483,-0.78],[-451,-0.93],[-412,0.47],[-382,-0.63],[-334,0.16],[-322,0.04],[-145,0.65],[-98,0.71],[-98,0.22],[-50,0.16],[-72,-0.11],[-50,-0.69],[-136,-0.63],[87,0.38],[113,-1.6],[242,-1.42],[363,-2.18],[212,-0.23],[429,0.22],[587,-0.69],[277,-2.57],[-5,-2.49],[148,-0.54],[-128,-2.05]];
const D_top = [[-300,-1.81,1],[247,-1.87,1],[337,-1.75,1],[-188,-1.3,1],[-149,0.49,1],[156,-2.21,1],[152,-1.78,1],[-223,-2.03,2],[-55,-1.9,2],[229,-1.48,2],[713,-1.9,2],[-390,-2.23,3],[18,-0.93,3],[139,-1.42,3],[-137,-1.99,3],[-175,-2.66,3],[-464,-1.84,3],[341,-1.45,3]];
const D_fit = [[[-780,-0.93],[1053,-1.4]],[[-611,0.4],[785,-0.72]],[[-798,2.2],[939,1.14]],[[-762,2.37],[826,-0.11]]];
const D_band = [[[-780,-1.31,-0.56],[-300,-1.2,-0.8],[100,-1.3,-0.95],[500,-1.5,-1],[1053,-1.86,-0.93]],[[-611,-0.58,1.17],[-300,-0.25,0.75],[0,-0.45,0.3],[400,-1,0.05],[785,-1.73,0.3]],[[-798,0.37,4.03],[-400,1,2.95],[0,1.2,2.15],[400,0.8,2.25],[939,-0.77,3.03]],[[-762,0.9,3.85],[-400,0.6,2.9],[0,0.55,1.8],[400,-0.4,1.3],[826,-2.05,1.86]]];

// ---------- Page geometry (pixels in the 1920x1840 page) and axis set-up
const W = 1920, H = 1840;
const frames = [[120.6,889,24.7,808],[1134,1911,24.7,808],[124,892.6,948,1731],[1125.6,1911,948,1731]];
const xRanges = [[-610,777],[-1026.5,1169],[-888,1142],[-888,1141]];
const yRanges = [[-51,18.08],[-4.71,3.88],[-10.12,6],[-3.65,10.62]];
const xTicks = [[-400,0,400],[-1000,-500,0,500,1000],C_tickVals,[-500,0,500,1000]];
const yTicks = [[-40,-20,0],[-4,-2,0,2],[-10,-5,0,5],[0,4,8]];
const panels = [
  {pts:[A_TD,A_BP,A_BPPS,A_PS],top:A_top,fit:A_fit,band:A_band,lineOrder:[0,1,2,3]},
  {pts:[B_TD,B_BP,B_BPPS,B_PS],top:B_top,fit:B_fit,band:B_band,lineOrder:[0,1,2,3]},
  {pts:[C_TD,C_BP,C_BPPS,C_PS],top:C_top,fit:C_fit,band:C_band,lineOrder:[2,1,0,3]},
  {pts:[D_TD,D_BP,D_BPPS,D_PS],top:D_top,fit:D_fit,band:D_band,lineOrder:[0,1,2,3]}
];
const PT = 22, FONT = '"Liberation Sans", Arial, sans-serif';
const traces = [];
const layout = {width:W,height:H,margin:{l:0,r:0,t:0,b:0},paper_bgcolor:'#fff',plot_bgcolor:'#fff',showlegend:false,font:{family:FONT},annotations:[],shapes:[]};

panels.forEach((p,i)=>{
  const xa = i ? 'x'+(i+1) : 'x', ya = i ? 'y'+(i+1) : 'y';
  const f = frames[i];
  const axisBase = {showgrid:false,zeroline:false,showline:true,mirror:true,linecolor:'#3a3a3a',linewidth:2,ticks:'outside',ticklen:3,tickwidth:2,tickcolor:'#333',tickfont:{family:FONT,size:27,color:'#4d4d4d'},automargin:false,fixedrange:true};
  layout[i?'xaxis'+(i+1):'xaxis'] = Object.assign({},axisBase,{domain:[f[0]/W,f[1]/W],range:xRanges[i],anchor:ya,tickmode:'array',tickvals:xTicks[i],ticktext:i===2?C_tickText:xTicks[i].map(v=>v<0?'\u2212'+(-v):String(v))});
  layout[i?'yaxis'+(i+1):'yaxis'] = Object.assign({},axisBase,{domain:[1-f[3]/H,1-f[2]/H],range:yRanges[i],anchor:xa,tickmode:'array',tickvals:yTicks[i],ticktext:yTicks[i].map(v=>v<0?'\u2212'+(-v):String(v))});
  // points: PS, BP+PS, BP, TD, then the few that sit above the green ones
  [3,2,1,0].forEach(g=>{
    traces.push({type:'scatter',mode:'markers',xaxis:xa,yaxis:ya,name:groupNames[g],hoverinfo:'skip',x:p.pts[g].map(q=>q[0]),y:p.pts[g].map(q=>q[1]),marker:{size:PT,color:groupColors[g],line:{width:0}}});
  });
  traces.push({type:'scatter',mode:'markers',xaxis:xa,yaxis:ya,hoverinfo:'skip',x:p.top.map(q=>q[0]),y:p.top.map(q=>q[1]),marker:{size:PT,color:p.top.map(q=>groupColors[q[2]]),line:{width:0}}});
  // confidence ribbons
  [0,1,2,3].forEach(g=>{
    const b = p.band[g];
    traces.push({type:'scatter',mode:'lines',xaxis:xa,yaxis:ya,hoverinfo:'skip',fill:'toself',fillcolor:'rgba(148,146,148,0.45)',line:{width:0},
      x:b.map(r=>r[0]).concat(b.map(r=>r[0]).reverse()),y:b.map(r=>r[2]).concat(b.map(r=>r[1]).reverse())});
  });
  // fit lines
  p.lineOrder.forEach(g=>{
    traces.push({type:'scatter',mode:'lines',xaxis:xa,yaxis:ya,hoverinfo:'skip',line:{color:groupColors[g],width:7.5},x:p.fit[g].map(q=>q[0]),y:p.fit[g].map(q=>q[1])});
  });
});

function note(text,px,py,size,opts){
  layout.annotations.push(Object.assign({text:text,xref:'paper',yref:'paper',x:px/W,y:1-py/H,xanchor:'center',yanchor:'middle',showarrow:false,font:{family:FONT,size:size,color:'#1a1a1a'}},opts||{}));
}
const TITLE = 37;
note('Lateral Orbitofrontal Surface Area (Residuals)',527,873,TITLE);
note('Precentral Surface Area (Residuals)',1514,873,TITLE);
note('Postcentral Surface Area (Residuals)',544,1812,TITLE);
note('Postcentral Surface Area (Residuals)',1522,1812,TITLE);
note('Current GAF (Residuals)',23,466,TITLE,{textangle:-90});
note('Complex Scale (Residuals)',1044,417,TITLE,{textangle:-90});
note('Executive Scale Score (Residuals)',40,1324,TITLE,{textangle:-90});
note('Negative Symptoms (Residuals)',1047,1336,TITLE,{textangle:-90});
[['A',35,39],['B',1038,36],['C',40,925],['D',1050,917]].forEach(l=>note('<b>'+l[0]+'</b>',l[1],l[2],56,{font:{family:FONT,size:56,color:'#000'}}));

// legend drawn inside panel B
const keyY = [66,98,139,182], keyTextY = [57,97,140,180], keyR = [8,7,6,7];
function px(x){return x/W} function py(y){return 1-y/H}
layout.shapes.push({type:'rect',xref:'paper',yref:'paper',x0:px(1630),x1:px(1672),y0:py(35),y1:py(203),fillcolor:'#cdcccd',line:{width:0}});
groupNames.forEach((n,g)=>{
  layout.shapes.push({type:'circle',xref:'paper',yref:'paper',x0:px(1651-keyR[g]),x1:px(1651+keyR[g]),y0:py(keyY[g]-keyR[g]-(g===0?3:0)),y1:py(keyY[g]+keyR[g]-(g===0?3:0)),fillcolor:g===0?'#8ba05a':groupColors[g],line:{width:0}});
  layout.shapes.push({type:'rect',xref:'paper',yref:'paper',x0:px(1634),x1:px(1668),y0:py(keyY[g]-3.5),y1:py(keyY[g]+3.5),fillcolor:groupColors[g],line:{width:0}});
  note(n,1676,keyTextY[g],26.5,{xanchor:'left'});
});

Plotly.newPlot('chart',traces,layout,{displayModeBar:false,staticPlot:true});
</script>
</body>
</html>
